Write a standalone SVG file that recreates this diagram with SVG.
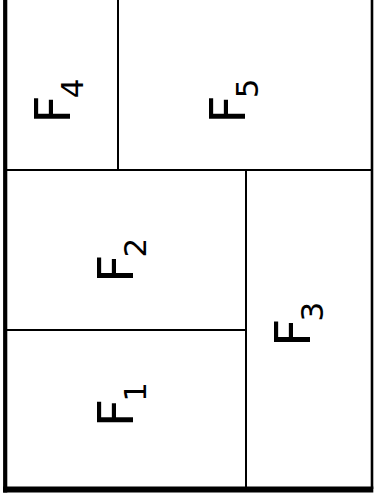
<svg xmlns="http://www.w3.org/2000/svg" width="374" height="503" viewBox="0 0 374 503">
<style>
.ln{stroke:#000;fill:none;stroke-linecap:butt}
.thin{stroke-width:2}
.lbl{font-family:"DejaVu Sans","Liberation Sans",sans-serif;font-size:49px;fill:#000}
.sub{font-size:31px}
</style>
<rect x="0" y="0" width="374" height="503" fill="#fff"/>
<g id="connectors">
<line class="ln" x1="5.2" y1="0" x2="5.2" y2="492.6" stroke-width="4.2"/>
<line class="ln" x1="3.1" y1="489.6" x2="373.3" y2="489.6" stroke-width="6"/>
<line class="ln" x1="372" y1="0" x2="372" y2="489" stroke-width="2.6"/>
<line class="ln thin" x1="7" y1="170" x2="371" y2="170"/>
<line class="ln thin" x1="118" y1="0" x2="118" y2="170"/>
<line class="ln thin" x1="246" y1="170" x2="246" y2="488"/>
<line class="ln thin" x1="7" y1="330" x2="246" y2="330"/>
</g>
<g id="F4"><text class="lbl" transform="translate(70,123.5) rotate(-90)">F<tspan class="sub" x="25.3" y="12.7">4</tspan></text></g>
<g id="F5"><text class="lbl" transform="translate(245,123.5) rotate(-90)">F<tspan class="sub" x="25.3" y="12.7">5</tspan></text></g>
<g id="F2"><text class="lbl" transform="translate(133.3,282.8) rotate(-90)">F<tspan class="sub" x="25.3" y="12.7">2</tspan></text></g>
<g id="F1"><text class="lbl" transform="translate(133.3,427.1) rotate(-90)">F<tspan class="sub" x="25.3" y="12.7">1</tspan></text></g>
<g id="F3"><text class="lbl" transform="translate(310,346.8) rotate(-90)">F<tspan class="sub" x="25.3" y="12.7">3</tspan></text></g>
</svg>
